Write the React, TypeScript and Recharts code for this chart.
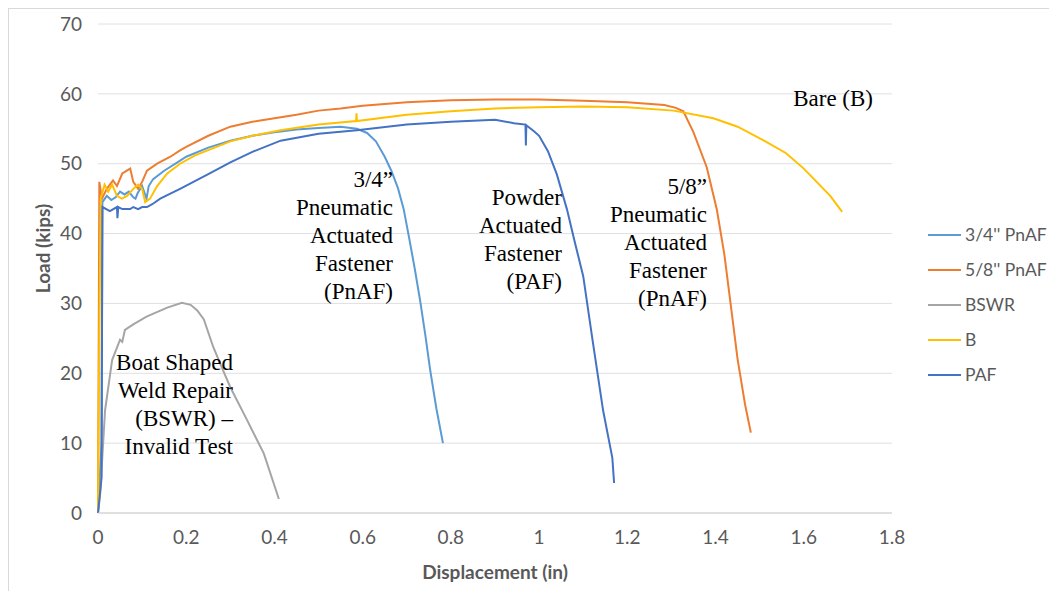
import { LineChart, Line, XAxis, YAxis, CartesianGrid, Legend } from "recharts";

type Pt = [number, number];

const FONT = "Lato, 'Open Sans', sans-serif";
const SERIF = "'Liberation Serif', 'DejaVu Serif', serif";

const xTicks = [0, 0.2, 0.4, 0.6, 0.8, 1, 1.2, 1.4, 1.6, 1.8];
const yTicks = [0, 10, 20, 30, 40, 50, 60, 70];

// displacement (in), load (kips)
const pnaf34: Pt[] = [
  [0, 0], [0.008, 10], [0.01, 44.5], [0.02, 45.4], [0.03, 44.8], [0.04, 45.2], [0.05, 46],
  [0.06, 45.6], [0.07, 46], [0.08, 45.2], [0.085, 45], [0.09, 45.8], [0.1, 46.8], [0.11, 45],
  [0.115, 46.8], [0.125, 47.8], [0.15, 49], [0.18, 50.2], [0.2, 51], [0.25, 52.3], [0.3, 53.3],
  [0.35, 54], [0.4, 54.5], [0.45, 54.9], [0.5, 55.1], [0.55, 55.3], [0.587, 55], [0.61, 54.4],
  [0.63, 53.2], [0.65, 51], [0.665, 49], [0.68, 46.5], [0.693, 43.5], [0.705, 39.5], [0.718, 35],
  [0.73, 30.5], [0.742, 25.5], [0.753, 20.5], [0.767, 15], [0.782, 10],
];

const pnaf58: Pt[] = [
  [0, 0], [0.002, 30], [0.003, 47.4], [0.009, 45], [0.02, 46.4], [0.034, 47.6], [0.043, 46.8],
  [0.055, 48.6], [0.073, 49.3], [0.08, 47.4], [0.091, 46.4], [0.1, 47.4], [0.111, 49], [0.134, 50],
  [0.164, 51], [0.186, 51.9], [0.2, 52.4], [0.25, 54], [0.3, 55.3], [0.35, 56], [0.4, 56.5],
  [0.45, 57], [0.5, 57.6], [0.55, 57.9], [0.6, 58.3], [0.7, 58.8], [0.8, 59.1], [0.9, 59.2],
  [1.0, 59.2], [1.1, 59], [1.2, 58.8], [1.284, 58.4], [1.31, 58], [1.327, 57.5], [1.35, 54.5],
  [1.38, 49.5], [1.403, 43.4], [1.42, 37], [1.433, 30.5], [1.45, 22], [1.467, 15.5], [1.48, 11.5],
];

const bswr: Pt[] = [
  [0, 0], [0.005, 2.8], [0.016, 14.7], [0.032, 21.9], [0.05, 24.8], [0.055, 24.5], [0.061, 26.2],
  [0.08, 27], [0.11, 28.1], [0.157, 29.4], [0.19, 30.1], [0.21, 29.8], [0.225, 29], [0.24, 27.7],
  [0.261, 23.8], [0.283, 20.5], [0.3, 18], [0.338, 13.3], [0.376, 8.5], [0.41, 2],
];

const bare: Pt[] = [
  [0, 0], [0.003, 25], [0.006, 45], [0.015, 47], [0.023, 46], [0.032, 47], [0.043, 45.4],
  [0.054, 45], [0.066, 45.4], [0.08, 46.4], [0.091, 47], [0.1, 46.4], [0.107, 44.5], [0.118, 45],
  [0.134, 46.8], [0.157, 48.6], [0.186, 50], [0.22, 51.2], [0.3, 53.2], [0.35, 54], [0.414, 54.8],
  [0.5, 55.6], [0.585, 56.1], [0.586, 57.2], [0.587, 56.1], [0.7, 57], [0.8, 57.5], [0.9, 57.9],
  [1.0, 58.1], [1.1, 58.2], [1.2, 58.1], [1.305, 57.6], [1.395, 56.5], [1.45, 55.3], [1.51, 53.3],
  [1.56, 51.5], [1.6, 49.3], [1.66, 45.4], [1.687, 43.1],
];

const paf: Pt[] = [
  [0, 0], [0.008, 5], [0.01, 43.8], [0.027, 43.2], [0.043, 43.8], [0.044, 42.2], [0.046, 43.8],
  [0.055, 43.5], [0.073, 43.5], [0.08, 43.8], [0.091, 43.5], [0.1, 43.8], [0.111, 43.8],
  [0.123, 44.2], [0.141, 45], [0.186, 46.4], [0.25, 48.5], [0.3, 50.2], [0.35, 51.7], [0.414, 53.3],
  [0.5, 54.3], [0.587, 54.8], [0.7, 55.6], [0.8, 56], [0.9, 56.3], [0.943, 55.8], [0.969, 55.6],
  [0.97, 52.6], [0.971, 55.5], [0.989, 54.6], [1.0, 54], [1.02, 51.8], [1.04, 48.5], [1.063, 43.5],
  [1.08, 39], [1.1, 33.9], [1.122, 24.4], [1.145, 14.7], [1.166, 7.9], [1.17, 4.3],
];

const series = [
  { name: "3/4'' PnAF", color: "#5B9BD5", points: pnaf34 },
  { name: "5/8'' PnAF", color: "#ED7D31", points: pnaf58 },
  { name: "BSWR", color: "#A5A5A5", points: bswr },
  { name: "B", color: "#FFC000", points: bare },
  { name: "PAF", color: "#4472C4", points: paf },
];

const notes = [
  { lines: ["Boat Shaped", "Weld Repair", "(BSWR) \u2013", "Invalid Test"], right: 224, top: 340 },
  { lines: ["3/4\u201d", "Pneumatic", "Actuated", "Fastener", "(PnAF)"], right: 384, top: 157 },
  { lines: ["Powder", "Actuated", "Fastener", "(PAF)"], right: 553, top: 175 },
  { lines: ["5/8\u201d", "Pneumatic", "Actuated", "Fastener", "(PnAF)"], right: 698, top: 164 },
  { lines: ["Bare (B)"], right: 864, top: 76 },
];

const toRows = (pts: Pt[]) => pts.map(([x, y]) => ({ x, y }));

// keep legend in series order (recharts sorts payload by name otherwise)
const renderLegend = () => (
  <div style={{ fontFamily: FONT, fontSize: 17.5, color: "#595959", whiteSpace: "nowrap" }}>
    {series.map((s) => (
      <div key={s.name} style={{ display: "flex", alignItems: "center", height: 35 }}>
        <span style={{ width: 33, height: 2, background: s.color, marginRight: 4 }} />
        <span>{s.name}</span>
      </div>
    ))}
  </div>
);

export default function App() {
  return (
    <div
      style={{
        position: "relative",
        width: 1041,
        height: 582,
        borderTop: "1px solid #d9d9d9",
        borderLeft: "1px solid #d9d9d9",
        background: "#fff",
      }}
    >
      <LineChart width={1040} height={581} margin={{ top: 15, right: 157, bottom: 27, left: 29 }}>
        <CartesianGrid vertical={false} stroke="#e0e0e0" />
        <XAxis
          type="number"
          dataKey="x"
          domain={[0, 1.8]}
          ticks={xTicks}
          height={50}
          tickLine={false}
          axisLine={{ stroke: "#d0d0d0" }}
          tickMargin={12}
          tick={{ fill: "#595959", fontSize: 19, fontFamily: FONT }}
          label={{
            content: (p: any) => (
              <text
                x={p.viewBox.x + p.viewBox.width / 2}
                y={p.viewBox.y + 58}
                textAnchor="middle"
                dominantBaseline="central"
                fill="#595959"
                fontFamily={FONT}
                fontSize={19}
                fontWeight="bold"
              >
                Displacement (in)
              </text>
            ),
          }}
        />
        <YAxis
          type="number"
          domain={[0, 70]}
          ticks={yTicks}
          width={60}
          tickLine={false}
          axisLine={false}
          tickMargin={10}
          tick={{ fill: "#595959", fontSize: 19, fontFamily: FONT }}
          label={{
            content: (p: any) => {
              const cx = p.viewBox.x + 4;
              const cy = p.viewBox.y + p.viewBox.height / 2 - 20;
              return (
                <text
                  x={cx}
                  y={cy}
                  transform={`rotate(-90 ${cx} ${cy})`}
                  textAnchor="middle"
                  dominantBaseline="central"
                  fill="#595959"
                  fontFamily={FONT}
                  fontSize={19}
                  fontWeight="bold"
                >
                  Load (kips)
                </text>
              );
            },
          }}
        />
        {series.map((s) => (
          <Line
            key={s.name}
            name={s.name}
            data={toRows(s.points)}
            dataKey="y"
            type="linear"
            stroke={s.color}
            strokeWidth={2}
            dot={false}
            activeDot={false}
            isAnimationActive={false}
          />
        ))}
        <Legend
          layout="horizontal"
          verticalAlign="middle"
          align="center"
          content={renderLegend}
          wrapperStyle={{ left: 919, top: 208, width: 135 }}
        />
      </LineChart>
      {notes.map((n) => (
        <div
          key={n.lines[0]}
          style={{
            position: "absolute",
            left: n.right - 300,
            top: n.top,
            width: 300,
            textAlign: "right",
            fontFamily: SERIF,
            fontSize: 23,
            lineHeight: "28px",
            color: "#000",
            pointerEvents: "none",
          }}
        >
          {n.lines.map((l) => (
            <div key={l}>{l}</div>
          ))}
        </div>
      ))}
    </div>
  );
}
